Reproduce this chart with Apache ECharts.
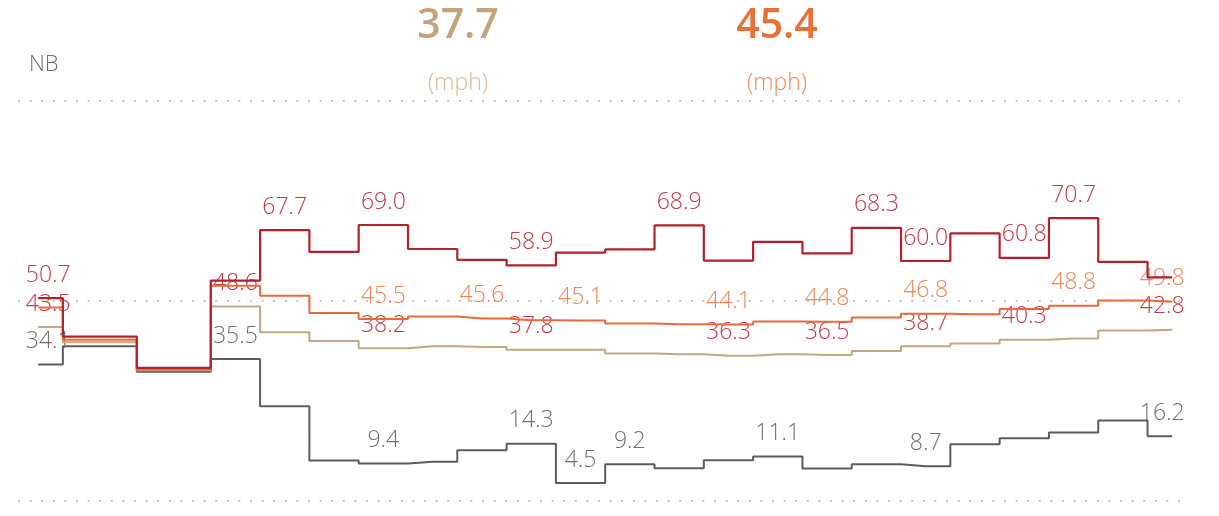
<!DOCTYPE html>
<html>
<head>
<meta charset="utf-8">
<script src="https://cdn.jsdelivr.net/npm/echarts@6/dist/echarts.min.js"></script>
<style>
  html, body { margin: 0; padding: 0; background: #ffffff; }
  #chart { width: 1219px; height: 516px; }
</style>
</head>
<body>
<div id="chart"></div>
<script>
// Direction and headline averages
const direction = 'NB';
const kpiValues = [37.7, 45.4];
const kpiUnit = '(mph)';

// Sample positions along the corridor (position 2 has no reading)
const xIndex = [0, 1, 3, 4, 5, 6, 7, 8, 9, 10, 11, 12, 13, 14, 15, 16, 17, 18, 19, 20, 21, 22, 23];

// Speeds (mph) at each sample position
const maxSpeed  = [50.7, 41.1, 33.3, 55.1, 67.7, 62.3, 69.0, 63.0, 60.3, 58.9, 62.1, 62.9, 68.9, 60.1, 64.8, 61.9, 68.3, 60.0, 66.9, 60.8, 70.7, 59.8, 55.9];
const avgSpeed  = [48.4, 40.3, 32.9, 53.8, 51.3, 47.0, 45.5, 46.1, 45.6, 45.2, 45.1, 44.4, 44.2, 44.1, 44.9, 44.8, 45.9, 46.8, 46.7, 48.0, 48.8, 50.1, 49.8];
const meanSpeed = [43.5, 39.7, 32.7, 48.6, 42.2, 40.0, 38.2, 38.7, 38.5, 37.8, 37.8, 36.9, 36.7, 36.3, 36.7, 36.5, 37.5, 38.7, 39.4, 40.3, 40.6, 42.6, 42.8];
const minSpeed  = [34.1, 38.7, 32.3, 35.5, 23.7, 10.1, 9.4, 9.8, 12.7, 14.3, 4.5, 9.2, 8.2, 10.2, 11.1, 8.1, 9.2, 8.7, 14.2, 15.7, 17.1, 20.1, 16.2];

// Positions whose value is printed
const maxLabelAt  = [0, 5, 7, 10, 13, 17, 18, 20, 21];
const avgLabelAt  = [7, 9, 11, 14, 16, 18, 21, 23];
const meanLabelAt = [0, 4, 7, 10, 14, 16, 18, 20, 23];
const minLabelAt  = [0, 4, 7, 10, 11, 12, 15, 18, 23];

const FONT = '"Open Sans", "Noto Sans", sans-serif';
const firstX = xIndex[0];
const lastX = xIndex[xIndex.length - 1];

function buildData(values, labelAt) {
  return xIndex.map(function (x, i) {
    const item = { value: [x, values[i]] };
    if (labelAt.indexOf(x) >= 0) {
      // keep edge labels inside the plot
      const dx = x === firstX ? 10 : (x === lastX ? -10 : 0);
      item.label = { show: true, offset: [dx, 0] };
    }
    return item;
  });
}

function stepSeries(name, values, labelAt, lineColor, labelColor, width, z) {
  return {
    name: name,
    type: 'line',
    step: 'middle',
    z: z,
    data: buildData(values, labelAt),
    symbol: 'circle',
    symbolSize: 1,
    showSymbol: true,
    itemStyle: { color: 'rgba(0,0,0,0)', borderWidth: 0 },
    lineStyle: { color: lineColor, width: width },
    label: {
      show: false,
      position: 'top',
      distance: 11,
      color: labelColor,
      fontFamily: FONT,
      fontWeight: 300,
      fontSize: 23,
      formatter: function (p) { return p.value[1].toFixed(1); }
    },
    emphasis: { disabled: true },
    silent: true
  };
}

const chart = echarts.init(document.getElementById('chart'), null, { renderer: 'canvas' });

chart.setOption({
  animation: false,
  backgroundColor: '#ffffff',
  grid: { left: 18, right: 33, top: 101, bottom: 15 },
  xAxis: {
    type: 'value',
    min: -0.41,
    max: 23.28,
    axisLine: { show: false },
    axisTick: { show: false },
    axisLabel: { show: false },
    splitLine: { show: false }
  },
  yAxis: {
    type: 'value',
    min: 0,
    max: 100,
    interval: 50,
    axisLine: { show: false },
    axisTick: { show: false },
    axisLabel: { show: false },
    splitLine: {
      show: true,
      lineStyle: { color: '#c6c6c6', width: 2, type: [2, 9.6] }
    }
  },
  graphic: [
    {
      type: 'text', left: 29, top: 54,
      style: { text: direction, fill: '#6b6b6b', font: '300 22px ' + FONT }
    },
    {
      type: 'text', x: 458, y: 26,
      style: { text: kpiValues[0].toFixed(1), fill: '#c4a27c', font: '600 41px ' + FONT, textAlign: 'center', textVerticalAlign: 'middle' }
    },
    {
      type: 'text', x: 458, y: 83,
      style: { text: kpiUnit, fill: '#d6b998', font: '300 23px ' + FONT, textAlign: 'center', textVerticalAlign: 'middle' }
    },
    {
      type: 'text', x: 777, y: 26,
      style: { text: kpiValues[1].toFixed(1), fill: '#e8703a', font: '600 41px ' + FONT, textAlign: 'center', textVerticalAlign: 'middle' }
    },
    {
      type: 'text', x: 777, y: 83,
      style: { text: kpiUnit, fill: '#ef8a5c', font: '300 23px ' + FONT, textAlign: 'center', textVerticalAlign: 'middle' }
    }
  ],
  series: [
    stepSeries('Min', minSpeed, minLabelAt, '#5c5c5c', '#707070', 2, 2),
    stepSeries('Mean', meanSpeed, meanLabelAt, '#c6a680', '#c23a42', 2, 3),
    stepSeries('Avg', avgSpeed, avgLabelAt, '#e8693a', '#f08658', 2, 4),
    stepSeries('Max', maxSpeed, maxLabelAt, '#b5202b', '#c23a42', 2.2, 5)
  ]
});
</script>
</body>
</html>
